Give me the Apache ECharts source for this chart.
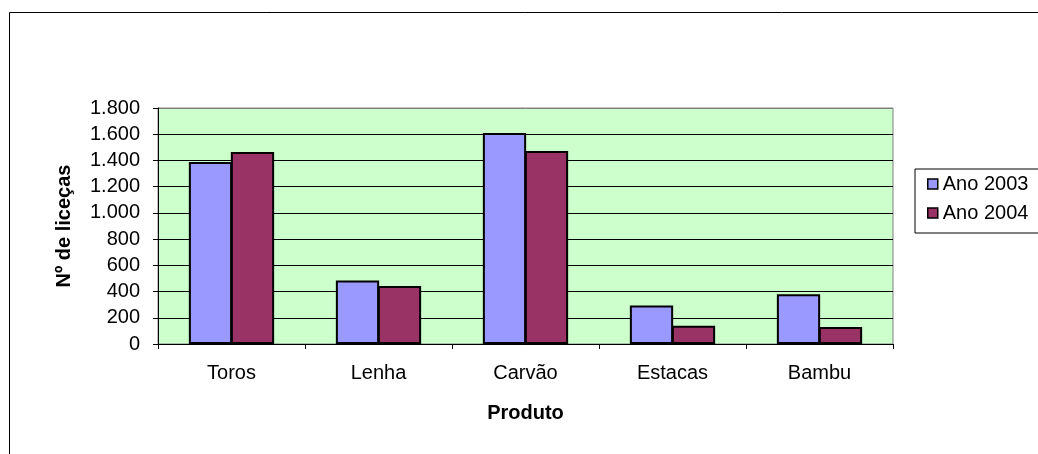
<!DOCTYPE html>
<html>
<head>
<meta charset="utf-8">
<script src="https://cdn.jsdelivr.net/npm/echarts@6/dist/echarts.min.js"></script>
<style>
  html, body { margin: 0; padding: 0; background: #fff; }
  #chart { width: 1038px; height: 454px; }
</style>
</head>
<body>
<div id="chart"></div>
<script>
// Licenses issued per forest product, 2003 vs 2004
const categories = ['Toros', 'Lenha', 'Carvão', 'Estacas', 'Bambu'];
const ano2003 = [1389, 484, 1609, 293, 380];
const ano2004 = [1465, 443, 1472, 139, 129];
const seriesNames = ['Ano 2003', 'Ano 2004'];

const FONT = 'Arial, "Liberation Sans", sans-serif';

// thousands separator in the Portuguese style: 1.800
function fmtThousands(v) {
  return String(v).replace(/\B(?=(\d{3})+(?!\d))/g, '.');
}

const chart = echarts.init(document.getElementById('chart'), null, { renderer: 'canvas' });

chart.setOption({
  animation: false,
  backgroundColor: '#ffffff',
  textStyle: { fontFamily: FONT },
  graphic: [
    {
      type: 'rect',
      z: -10,
      shape: { x: 9.5, y: 12.5, width: 1200, height: 600 },
      style: { fill: 'none', stroke: '#000', lineWidth: 1 }
    }
  ],
  grid: {
    left: 158, top: 108, width: 735, height: 236,
    show: true,
    backgroundColor: '#CCFFCC',
    borderColor: '#808080',
    borderWidth: 1
  },
  legend: {
    orient: 'vertical',
    left: 915, top: 169,
    padding: [5, 80, 10, 12],
    itemGap: 9,
    itemWidth: 10, itemHeight: 10,
    itemTextGap: 2,
    icon: 'rect',
    backgroundColor: '#fff',
    borderColor: '#000',
    borderWidth: 1,
    itemStyle: { borderColor: '#000', borderWidth: 1.5 },
    textStyle: { fontFamily: FONT, fontSize: 20, color: '#000' },
    data: seriesNames
  },
  xAxis: {
    type: 'category',
    data: categories,
    name: 'Produto',
    nameLocation: 'middle',
    nameGap: 59,
    nameTextStyle: { fontFamily: FONT, fontSize: 20, fontWeight: 'bold', color: '#000' },
    axisLine: { lineStyle: { color: '#000', width: 1 } },
    axisTick: { show: true, alignWithLabel: false, length: 5, lineStyle: { color: '#000' } },
    axisLabel: { fontFamily: FONT, fontSize: 20, color: '#000', margin: 19 },
    splitLine: { show: false }
  },
  yAxis: {
    type: 'value',
    min: 0, max: 1800, interval: 200,
    name: 'Nº de liceças',
    nameLocation: 'middle',
    nameGap: 84,
    nameTextStyle: { fontFamily: FONT, fontSize: 20, fontWeight: 'bold', color: '#000' },
    axisLine: { show: true, lineStyle: { color: '#000', width: 1 } },
    axisTick: { show: true, length: 5, lineStyle: { color: '#000' } },
    axisLabel: {
      fontFamily: FONT, fontSize: 20, color: '#000', margin: 18,
      formatter: fmtThousands
    },
    splitLine: {
      show: true,
      lineStyle: {
        color: ['#000', '#000', '#000', '#000', '#000', '#000', '#000', '#000', '#000', '#808080'],
        width: 1
      }
    }
  },
  series: [
    {
      name: seriesNames[0],
      type: 'bar',
      data: ano2003,
      barGap: '-3%',
      barCategoryGap: '42%',
      itemStyle: { color: '#9999FF', borderColor: '#000', borderWidth: 2 }
    },
    {
      name: seriesNames[1],
      type: 'bar',
      data: ano2004,
      barGap: '-3%',
      barCategoryGap: '42%',
      itemStyle: { color: '#993366', borderColor: '#000', borderWidth: 2 }
    }
  ]
});
</script>
</body>
</html>
